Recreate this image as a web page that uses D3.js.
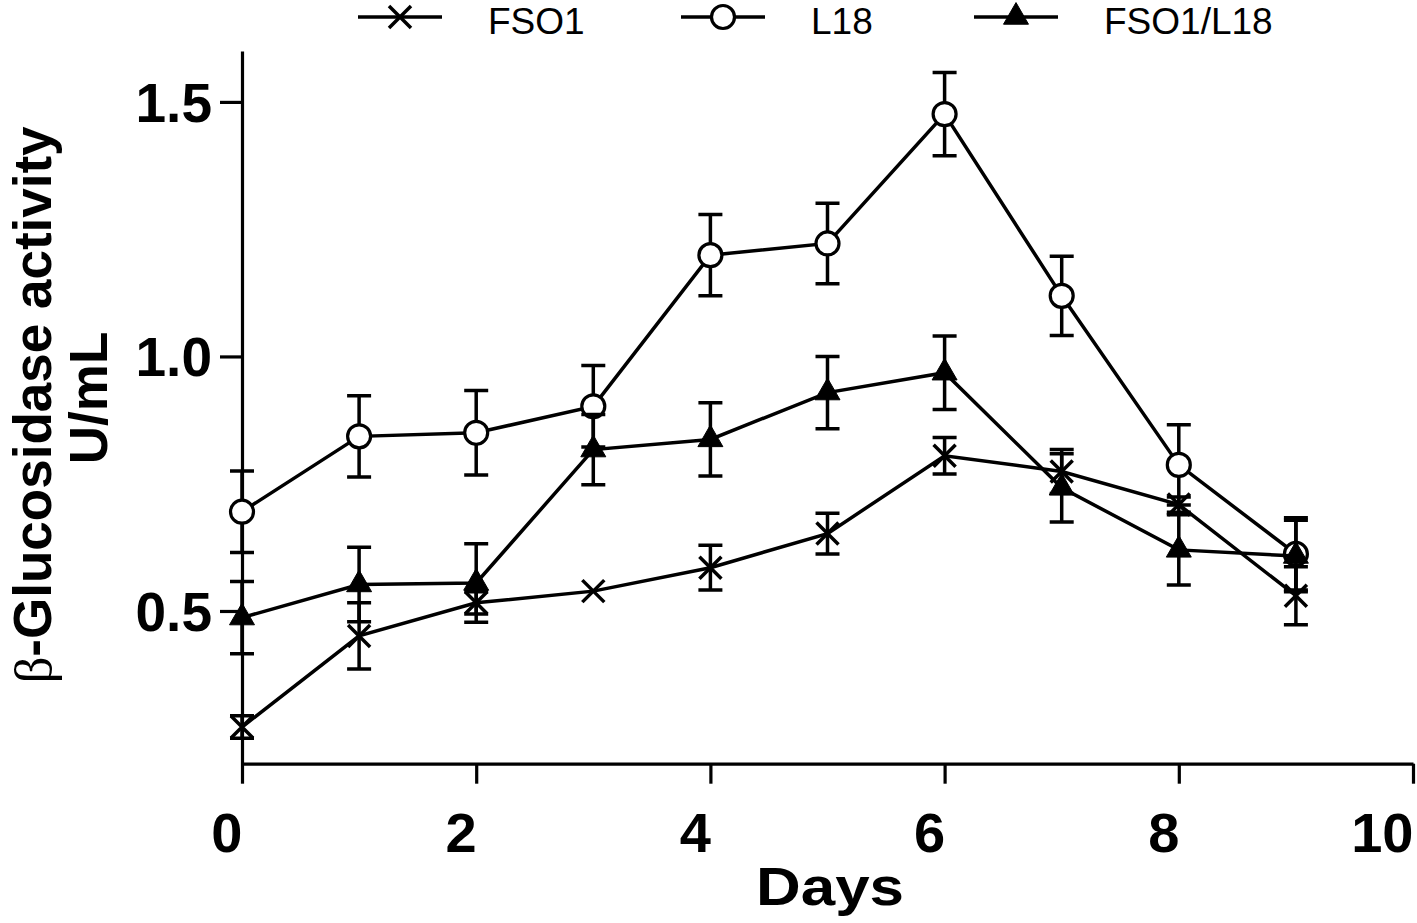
<!DOCTYPE html>
<html>
<head>
<meta charset="utf-8">
<script src="https://d3js.org/d3.v7.min.js"></script>
<style>
  html, body { margin: 0; padding: 0; background: #fff; }
  svg { display: block; }
</style>
</head>
<body>
<svg id="chart" width="1417" height="923"></svg>
<script>
// ---- data ----
const days = [0, 1, 2, 3, 4, 5, 6, 7, 8, 9];
const fso1 = [0.272, 0.451, 0.516, 0.539, 0.585, 0.652, 0.805, 0.774, 0.709, 0.530];
const fso1Err = [0.022, 0.065, 0.022, 0.0, 0.044, 0.040, 0.036, 0.043, 0.015, 0.057];
const l18 = [0.695, 0.843, 0.850, 0.902, 1.199, 1.222, 1.476, 1.119, 0.787, 0.612];
const l18Err = [0.080, 0.080, 0.083, 0.080, 0.080, 0.079, 0.082, 0.078, 0.079, 0.071];
const mix = [0.487, 0.552, 0.555, 0.817, 0.837, 0.929, 0.968, 0.742, 0.620, 0.608];
const mixErr = [0.071, 0.073, 0.077, 0.069, 0.072, 0.071, 0.072, 0.067, 0.069, 0.070];
const seriesNames = ["FSO1", "L18", "FSO1/L18"];
const xTicks = [0, 2, 4, 6, 8, 10];
const yTicks = [0.5, 1.0, 1.5];

const svg = d3.select("#chart");
const x = d3.scaleLinear().domain([0, 10]).range([242, 1413]);
const y = d3.scaleLinear().domain([0.2, 1.6]).range([763.7, 51]);

const SW = 3.5;
const SANS = "'Liberation Sans', Arial, Helvetica, sans-serif";

// axes
const xAxis = d3.axisBottom(x).tickValues(xTicks).tickSize(20).tickSizeOuter(0).tickFormat(d3.format("d"));
const gx = svg.append("g").attr("transform", `translate(0,${y(0.2)})`).call(xAxis);
gx.select(".domain").attr("stroke", "#000").attr("stroke-width", 3.2);
gx.selectAll(".tick line").attr("stroke", "#000").attr("stroke-width", 3.2);
gx.selectAll(".tick text")
  .attr("fill", "#000").attr("text-anchor", "end").attr("dy", 0).attr("y", 88)
  .style("font-family", SANS).style("font-weight", "bold").style("font-size", "56px");

const yAxis = d3.axisLeft(y).tickValues(yTicks).tickSize(22).tickSizeOuter(0).tickFormat(d3.format(".1f"));
const gy = svg.append("g").attr("transform", `translate(${x(0)},0)`).call(yAxis);
gy.select(".domain").attr("stroke", "#000").attr("stroke-width", 3.2);
gy.selectAll(".tick line").attr("stroke", "#000").attr("stroke-width", 3.2);
gy.selectAll(".tick text")
  .attr("fill", "#000").attr("x", -30).attr("dy", "0.35em")
  .style("font-family", SANS).style("font-weight", "bold").style("font-size", "55px");

// axis titles
svg.append("text").attr("x", 830).attr("y", 905).attr("text-anchor", "middle")
  .attr("textLength", 148).attr("lengthAdjust", "spacingAndGlyphs")
  .style("font-family", SANS).style("font-weight", "bold").style("font-size", "54px")
  .text("Days");

const yt = svg.append("text").attr("transform", "translate(51,405) rotate(-90)").attr("text-anchor", "middle")
  .style("font-family", SANS).style("font-weight", "bold").style("font-size", "53px");
yt.append("tspan").style("font-family", "'Liberation Serif', 'Times New Roman', serif").style("font-weight", "normal").text("β");
yt.append("tspan").text("-Glucosidase activity");
svg.append("text").attr("transform", "translate(107,398) rotate(-90)").attr("text-anchor", "middle")
  .style("font-family", SANS).style("font-weight", "bold").style("font-size", "53px")
  .text("U/mL");

// marker drawing
function drawMarker(g, type, cx, cy) {
  if (type === "x") {
    const s = 11;
    g.append("path").attr("d", `M${cx - s},${cy - s}L${cx + s},${cy + s}M${cx - s},${cy + s}L${cx + s},${cy - s}`)
      .attr("stroke", "#000").attr("stroke-width", SW).attr("fill", "none");
  } else if (type === "circle") {
    g.append("circle").attr("cx", cx).attr("cy", cy).attr("r", 11.5)
      .attr("fill", "#fff").attr("stroke", "#000").attr("stroke-width", 3.2);
  } else {
    g.append("path").attr("d", d3.symbol(d3.symbolTriangle, 270)())
      .attr("transform", `translate(${cx},${cy})`).attr("fill", "#000").attr("stroke", "#000").attr("stroke-width", 1);
  }
}

const series = [
  { name: seriesNames[1], vals: l18, err: l18Err, marker: "circle" },
  { name: seriesNames[2], vals: mix, err: mixErr, marker: "tri" },
  { name: seriesNames[0], vals: fso1, err: fso1Err, marker: "x" }
];

const line = d3.line().x((d, i) => x(days[i])).y(d => y(d));

series.forEach(s => {
  const g = svg.append("g");
  g.append("path").attr("d", line(s.vals)).attr("fill", "none").attr("stroke", "#000").attr("stroke-width", SW);
  s.vals.forEach((v, i) => {
    if (s.err[i] <= 0) return;
    const cx = x(days[i]);
    const y0 = y(v - s.err[i]), y1 = y(v + s.err[i]);
    const cw = 12;
    g.append("path").attr("d", `M${cx},${y0}L${cx},${y1}M${cx - cw},${y0}L${cx + cw},${y0}M${cx - cw},${y1}L${cx + cw},${y1}`)
      .attr("stroke", "#000").attr("stroke-width", SW).attr("fill", "none");
  });
  s.vals.forEach((v, i) => drawMarker(g, s.marker, x(days[i]), y(v)));
});

// legend
const legendItems = [
  { name: seriesNames[0], marker: "x", cx: 400 },
  { name: seriesNames[1], marker: "circle", cx: 723 },
  { name: seriesNames[2], marker: "tri", cx: 1016 }
];
legendItems.forEach(it => {
  const g = svg.append("g");
  g.append("line").attr("x1", it.cx - 42).attr("x2", it.cx + 42).attr("y1", 17).attr("y2", 17)
    .attr("stroke", "#000").attr("stroke-width", 3.3);
  drawMarker(g, it.marker, it.cx, 17);
  g.append("text").attr("x", it.cx + 88).attr("y", 34)
    .style("font-family", SANS).style("font-size", "37px").text(it.name);
});
</script>
</body>
</html>
